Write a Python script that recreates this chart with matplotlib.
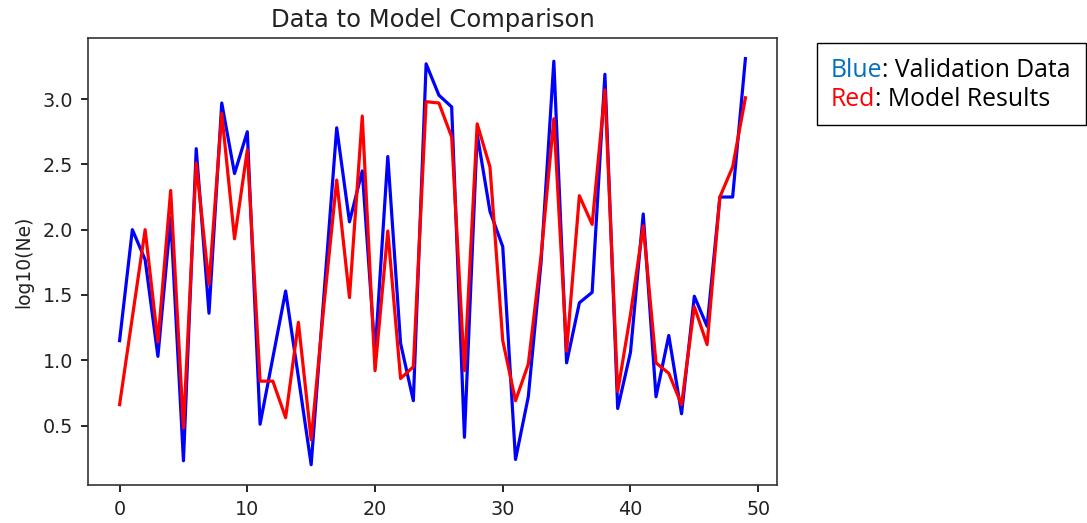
import matplotlib
matplotlib.use("Agg")
import matplotlib.pyplot as plt
from matplotlib.patches import Rectangle

# ---- data ----
x_index = list(range(50))
validation_data = [1.15, 2.00, 1.77, 1.03, 2.09, 0.23, 2.62, 1.36, 2.97, 2.43,
                   2.75, 0.51, 1.02, 1.53, 0.87, 0.20, 1.50, 2.78, 2.06, 2.45,
                   1.05, 2.56, 1.13, 0.69, 3.27, 3.03, 2.94, 0.41, 2.73, 2.14,
                   1.87, 0.24, 0.72, 1.75, 3.29, 0.98, 1.44, 1.52, 3.19, 0.63,
                   1.06, 2.12, 0.72, 1.19, 0.59, 1.49, 1.26, 2.25, 2.25, 3.31]
model_results = [0.66, 1.33, 2.00, 1.14, 2.30, 0.48, 2.51, 1.58, 2.89, 1.93,
                 2.61, 0.84, 0.84, 0.56, 1.29, 0.39, 1.42, 2.38, 1.48, 2.87,
                 0.92, 1.99, 0.86, 0.95, 2.98, 2.97, 2.71, 0.92, 2.81, 2.48,
                 1.15, 0.69, 0.97, 1.80, 2.85, 1.07, 2.26, 2.04, 3.07, 0.76,
                 1.35, 2.03, 0.98, 0.90, 0.66, 1.41, 1.12, 2.25, 2.48, 3.01]
title_text = "Data to Model Comparison"
ylabel_text = "log10(Ne)"
note_lines = [("Blue", ": Validation Data", "#0070C0"),
              ("Red", ": Model Results", "#FF0000")]

W, H = 1087, 523
fig = plt.figure(figsize=(W / 100, H / 100), dpi=100)
ax = fig.add_axes([88.3 / W, 1 - 485 / H, (776.7 - 88.3) / W, (485 - 38.3) / H])

ax.plot(x_index, validation_data, color="blue", lw=2.3)
ax.plot(x_index, model_results, color="red", lw=2.3)

ax.set_title(title_text, fontsize=17.5, pad=8, color="#222222")
ax.set_ylabel(ylabel_text, fontsize=13.5, labelpad=7, color="#222222")
ax.set_xticks([0, 10, 20, 30, 40, 50])
ax.set_yticks([0.5, 1.0, 1.5, 2.0, 2.5, 3.0])
ax.tick_params(labelsize=13.8, length=5, width=1.2, pad=6, labelcolor="#222222")
for s in ax.spines.values():
    s.set_linewidth(1.2)
    s.set_color("#333333")

# ---- annotation box ----
fig.patches.append(Rectangle((817 / W, 1 - 125 / H), (1086 - 817) / W, 82 / H,
                             transform=fig.transFigure, fill=False,
                             edgecolor="black", lw=1.0))
renderer = fig.canvas.get_renderer()
baselines = [77, 106]
for (word, rest, col), yb in zip(note_lines, baselines):
    t1 = fig.text(831 / W, 1 - yb / H, word, color=col, family="Open Sans",
                  fontsize=17.8, va="baseline", ha="left")
    bb = t1.get_window_extent(renderer=renderer)
    fig.text(bb.x1 / W, 1 - yb / H, rest, color="black", family="Open Sans",
             fontsize=17.8, va="baseline", ha="left")

fig.savefig("out.png", dpi=100)
